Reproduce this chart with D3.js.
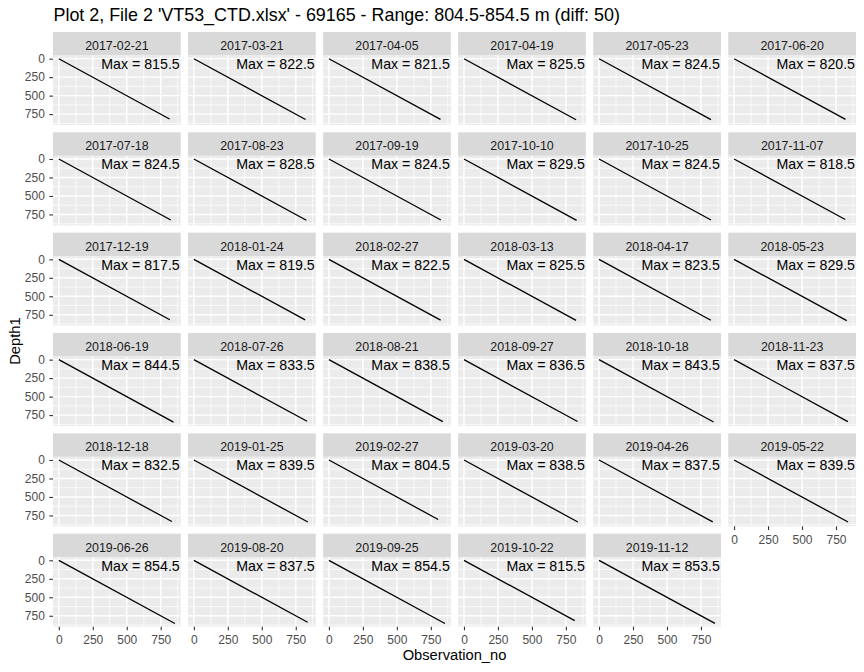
<!DOCTYPE html>
<html>
<head>
<meta charset="utf-8">
<script src="https://cdn.jsdelivr.net/npm/d3@7"></script>
<style>
  html, body { margin: 0; padding: 0; background: #ffffff; }
  svg { display: block; font-family: "Liberation Sans", Arial, sans-serif; }
</style>
</head>
<body>
<svg id="chart" width="864" height="672"></svg>
<script>
// ---- data ----
const titleText = "Plot 2, File 2 'VT53_CTD.xlsx' - 69165 - Range: 804.5-854.5 m (diff: 50)";
const dates = [
  "2017-02-21","2017-03-21","2017-04-05","2017-04-19","2017-05-23","2017-06-20",
  "2017-07-18","2017-08-23","2017-09-19","2017-10-10","2017-10-25","2017-11-07",
  "2017-12-19","2018-01-24","2018-02-27","2018-03-13","2018-04-17","2018-05-23",
  "2018-06-19","2018-07-26","2018-08-21","2018-09-27","2018-10-18","2018-11-23",
  "2018-12-18","2019-01-25","2019-02-27","2019-03-20","2019-04-26","2019-05-22",
  "2019-06-26","2019-08-20","2019-09-25","2019-10-22","2019-11-12"
];
const maxDepth = [
  815.5, 822.5, 821.5, 825.5, 824.5, 820.5,
  824.5, 828.5, 824.5, 829.5, 824.5, 818.5,
  817.5, 819.5, 822.5, 825.5, 823.5, 829.5,
  844.5, 833.5, 838.5, 836.5, 843.5, 837.5,
  832.5, 839.5, 804.5, 838.5, 837.5, 839.5,
  854.5, 837.5, 854.5, 815.5, 853.5
];
// last observation number of each cast (approx. read from the line ends)
const lastObs = [
  815, 822, 821, 825, 824, 820,
  824, 828, 824, 829, 824, 818,
  817, 819, 822, 825, 823, 829,
  844, 833, 838, 836, 843, 837,
  832, 839, 804, 838, 837, 839,
  854, 837, 854, 815, 853
];
const firstObs = 0;
const firstDepth = 0.5;
const xBreaks = [0, 250, 500, 750];
const xMinor = [125, 375, 625, 875];
const yBreaks = [0, 250, 500, 750];
const yMinor = [125, 375, 625, 875];
const xDataRange = [0, 854.5];
const yDataRange = [0, 854.5];

// ---- layout ----
const nCol = 6;
const plotLeft = 53, plotRight = 856;
const gapX = 7.33;
const panelW = (plotRight - plotLeft - (nCol - 1) * gapX) / nCol;
const stripTop0 = 32, stripH = 23.5, panelH = 69.5, rowPitch = 100.33;

const svg = d3.select("#chart");

function expand(r) { const d = (r[1] - r[0]) * 0.05; return [r[0] - d, r[1] + d]; }
const xDom = expand(xDataRange), yDom = expand(yDataRange);

const panels = dates.map((d, i) => ({
  date: d, max: maxDepth[i], last: lastObs[i],
  row: Math.floor(i / nCol), col: i % nCol, idx: i
}));
const nRows = Math.ceil(dates.length / nCol);

panels.forEach(p => {
  const px = plotLeft + p.col * (panelW + gapX);
  const sy = stripTop0 + p.row * rowPitch;
  const py = sy + stripH;
  const g = svg.append("g");
  const x = d3.scaleLinear().domain(xDom).range([px, px + panelW]);
  const y = d3.scaleLinear().domain(yDom).range([py, py + panelH]);

  // strip
  g.append("rect").attr("x", px).attr("y", sy).attr("width", panelW).attr("height", stripH)
    .attr("fill", "#D9D9D9");
  g.append("text").attr("x", px + panelW / 2).attr("y", sy + 18)
    .attr("text-anchor", "middle").attr("font-size", "12.4px").attr("fill", "#1A1A1A")
    .text(p.date);

  // panel background
  g.append("rect").attr("x", px).attr("y", py).attr("width", panelW).attr("height", panelH)
    .attr("fill", "#EBEBEB");

  // minor grid
  xMinor.filter(v => v >= xDom[0] && v <= xDom[1]).forEach(v => {
    g.append("line").attr("x1", x(v)).attr("x2", x(v)).attr("y1", py).attr("y2", py + panelH)
      .attr("stroke", "#ffffff").attr("stroke-width", 0.71);
  });
  yMinor.filter(v => v >= yDom[0] && v <= yDom[1]).forEach(v => {
    g.append("line").attr("y1", y(v)).attr("y2", y(v)).attr("x1", px).attr("x2", px + panelW)
      .attr("stroke", "#ffffff").attr("stroke-width", 0.71);
  });
  // major grid
  xBreaks.forEach(v => {
    g.append("line").attr("x1", x(v)).attr("x2", x(v)).attr("y1", py).attr("y2", py + panelH)
      .attr("stroke", "#ffffff").attr("stroke-width", 1.42);
  });
  yBreaks.forEach(v => {
    g.append("line").attr("y1", y(v)).attr("y2", y(v)).attr("x1", px).attr("x2", px + panelW)
      .attr("stroke", "#ffffff").attr("stroke-width", 1.42);
  });

  // data line
  const pts = [[firstObs, firstDepth], [p.last, p.max]];
  g.append("path").datum(pts)
    .attr("d", d3.line().x(d => x(d[0])).y(d => y(d[1])))
    .attr("fill", "none").attr("stroke", "#000000").attr("stroke-width", 1.3);

  // Max label
  g.append("text").attr("x", px + panelW - 1).attr("y", y(0) + 10.3)
    .attr("text-anchor", "end").attr("font-size", "14.2px").attr("fill", "#000000")
    .text("Max = " + p.max);

  // y axis on first column
  if (p.col === 0) {
    const ax = g.append("g").attr("transform", `translate(${px},0)`)
      .call(d3.axisLeft(y).tickValues(yBreaks).tickSize(3.67).tickPadding(4.5));
    ax.select(".domain").remove();
    ax.selectAll(".tick line").attr("stroke", "#333333").attr("stroke-width", 1.1);
    ax.selectAll(".tick text").attr("fill", "#4D4D4D").attr("font-size", "12px")
      .attr("font-family", "'Liberation Sans', Arial, sans-serif");
  }
  // x axis where there is no panel below
  const below = p.idx + nCol;
  if (below >= dates.length) {
    const ax = g.append("g").attr("transform", `translate(0,${py + panelH})`)
      .call(d3.axisBottom(x).tickValues(xBreaks).tickSize(3.67).tickPadding(5));
    ax.select(".domain").remove();
    ax.selectAll(".tick line").attr("stroke", "#333333").attr("stroke-width", 1.1);
    ax.selectAll(".tick text").attr("fill", "#4D4D4D").attr("font-size", "12px")
      .attr("font-family", "'Liberation Sans', Arial, sans-serif");
  }
});

// title
svg.append("text").attr("x", 53.5).attr("y", 21)
  .attr("font-size", "17.9px").attr("fill", "#000000").text(titleText);

// axis titles
const lastBottom = stripTop0 + (nRows - 1) * rowPitch + stripH + panelH;
svg.append("text").attr("x", (plotLeft + plotRight) / 2).attr("y", 660)
  .attr("text-anchor", "middle").attr("font-size", "14.7px").attr("fill", "#000000")
  .text("Observation_no");
const yMid = (stripTop0 + stripH + lastBottom) / 2;
svg.append("text").attr("transform", `translate(19.5,${yMid}) rotate(-90)`)
  .attr("text-anchor", "middle").attr("font-size", "14.7px").attr("fill", "#000000")
  .text("Depth1");
</script>
</body>
</html>
